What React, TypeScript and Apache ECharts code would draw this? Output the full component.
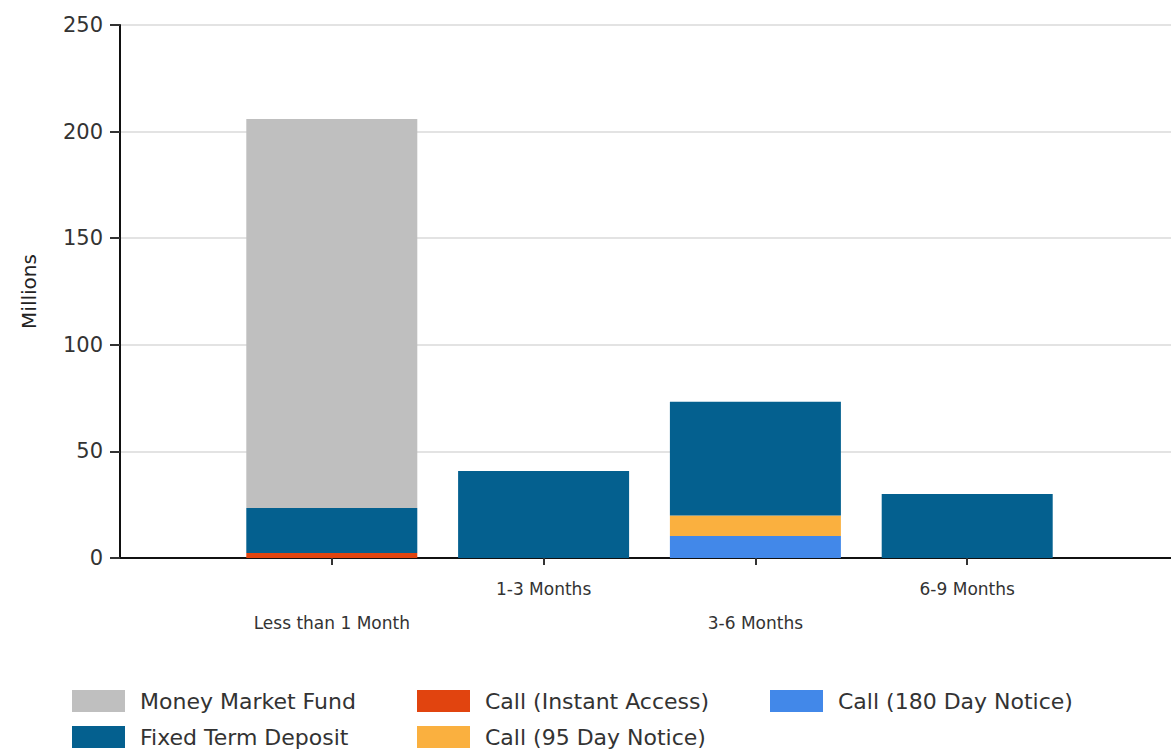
import React, { useEffect, useRef } from "react";
import * as echarts from "echarts";

const categories = ["", "Less than 1 Month", "1-3 Months", "3-6 Months", "6-9 Months", ""];
const callInstant = [null, 2.4, 0, 0, 0, null];
const call180 = [null, 0, 0, 10.3, 0, null];
const call95 = [null, 0, 0, 9.6, 0, null];
const fixedTerm = [null, 21.1, 40.8, 53.4, 30.0, null];
const moneyMarket = [null, 182.4, 0, 0, 0, null];
const yTicks = { min: 0, max: 250, interval: 50 };

const COLORS: Record<string, string> = {
  "Money Market Fund": "#bfbfbf",
  "Fixed Term Deposit": "#04608f",
  "Call (Instant Access)": "#e1440f",
  "Call (95 Day Notice)": "#fab03f",
  "Call (180 Day Notice)": "#4288e9",
};

export default function App() {
  const ref = useRef<HTMLDivElement>(null);
  useEffect(() => {
    if (!ref.current) return;
    const chart = echarts.init(ref.current, undefined, { renderer: "svg" });
    const font = "'DejaVu Sans', sans-serif";
    const mk = (name: string, data: (number | null)[]) => ({
      name,
      type: "bar",
      stack: "total",
      data,
      barWidth: 171,
      itemStyle: { color: COLORS[name] },
    });
    const legendItem = (name: string, left: number, top: number) => ({
      data: [name],
      left,
      top,
      itemWidth: 53,
      itemHeight: 22,
      itemGap: 0,
      icon: "rect",
      textStyle: { fontSize: 22, color: "#333", fontFamily: font, padding: [0, 0, 0, 10] },
      selectedMode: false,
    });
    chart.setOption({
      animation: false,
      grid: { left: 120, width: 1059, top: 25, bottom: 196, containLabel: false },
      legend: [
        legendItem("Money Market Fund", 67, 685),
        legendItem("Fixed Term Deposit", 67, 721),
        legendItem("Call (Instant Access)", 412, 685),
        legendItem("Call (95 Day Notice)", 412, 721),
        legendItem("Call (180 Day Notice)", 765, 685),
      ],
      xAxis: {
        type: "category",
        data: categories,
        boundaryGap: false,
        axisLine: { lineStyle: { color: "#111", width: 2 } },
        axisTick: {
          length: 7,
          lineStyle: { color: "#333", width: 2 },
          interval: (i: number) => i > 0 && i < categories.length - 1,
        },
        axisLabel: {
          interval: 0,
          margin: 14,
          fontSize: 17,
          color: "#333",
          fontFamily: font,
          lineHeight: 34,
          formatter: (v: string, i: number) => (i % 2 === 1 ? "\n" + v : v),
        },
      },
      yAxis: {
        type: "value",
        min: yTicks.min,
        max: yTicks.max,
        interval: yTicks.interval,
        name: "Millions",
        nameLocation: "middle",
        nameGap: 81,
        nameRotate: 90,
        nameTextStyle: { fontSize: 20, color: "#222", fontFamily: font },
        axisLine: { show: true, lineStyle: { color: "#111", width: 2 } },
        axisTick: { show: true, length: 10, lineStyle: { color: "#333", width: 2 } },
        axisLabel: { fontSize: 21, color: "#333", fontFamily: font, margin: 17 },
        splitLine: { lineStyle: { color: "#e3e3e3", width: 2 } },
      },
      series: [
        mk("Call (Instant Access)", callInstant),
        mk("Call (180 Day Notice)", call180),
        mk("Call (95 Day Notice)", call95),
        mk("Fixed Term Deposit", fixedTerm),
        mk("Money Market Fund", moneyMarket),
      ],
    });
    return () => chart.dispose();
  }, []);
  return (
    <div
      style={{
        position: "absolute",
        left: 0,
        top: 0,
        width: 1171,
        height: 754,
        overflow: "hidden",
        background: "#fff",
      }}
    >
      <div ref={ref} style={{ width: 1195, height: 754 }} />
    </div>
  );
}
